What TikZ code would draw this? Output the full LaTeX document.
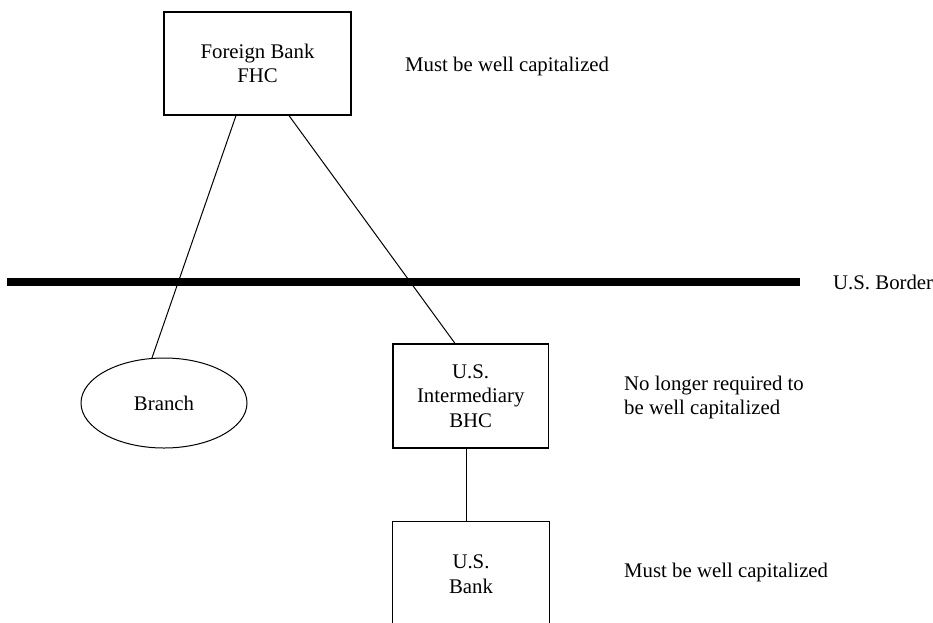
\documentclass[tikz,border=0pt]{standalone}
\usepackage{fontspec}
\setmainfont{Liberation Serif}
\usetikzlibrary{shapes.geometric,calc}
\begin{document}
\begin{tikzpicture}[x=1pt,y=-1pt,
  every node/.style={font=\fontsize{20.8}{24.5}\selectfont},
  boxnode/.style={draw,line width=1.2pt,inner sep=0pt,align=center},
  ovalnode/.style={draw,ellipse,line width=1pt,inner sep=0pt},
  note/.style={inner sep=0pt,anchor=west,align=left},
  link/.style={line width=1pt},
  border/.style={line width=8pt,line cap=butt}]
\useasboundingbox (0,0) rectangle (933,622);
\fill[white] (0,0) rectangle (933,622);

\node[boxnode,minimum width=187pt,minimum height=103pt] (fhc) at (257.5,63.5) {Foreign Bank\\FHC};
\node[ovalnode,minimum width=166pt,minimum height=90pt] (branch) at (164,403) {Branch};
\node[boxnode,minimum width=155.5pt,minimum height=104pt] (ibhc) at (470.7,396) {U.S.\\Intermediary\\BHC};
\node[inner sep=0pt,minimum width=156pt,minimum height=104pt,align=center] (bank) at (471,574) {U.S.\\Bank};
\draw[line width=1.2pt] (bank.south west) -- (bank.north west) -- (bank.north east) -- (bank.south east);

\node[note] (n1) at (405,66) {Must be well capitalized};
\node[note] (n2) at (833,282) {U.S. Border};
\node[note] (n3) at (624,397.5) {No longer required to\\be well capitalized};
\node[note] (n4) at (624,572) {Must be well capitalized};

\coordinate (bl) at (7,282);
\coordinate (br) at (800,282);
\draw[border] (bl) -- (br);

\draw[link] ($(fhc.south)+(-21.5,0)$) -- (branch.105);
\draw[link] ($(fhc.south)+(31.5,0)$) -- ($(ibhc.north)+(-15.7,0)$);
\draw[link] ($(ibhc.south)+(-4.7,0)$) -- ($(bank.north)+(-5,0)$);
\end{tikzpicture}
\end{document}
